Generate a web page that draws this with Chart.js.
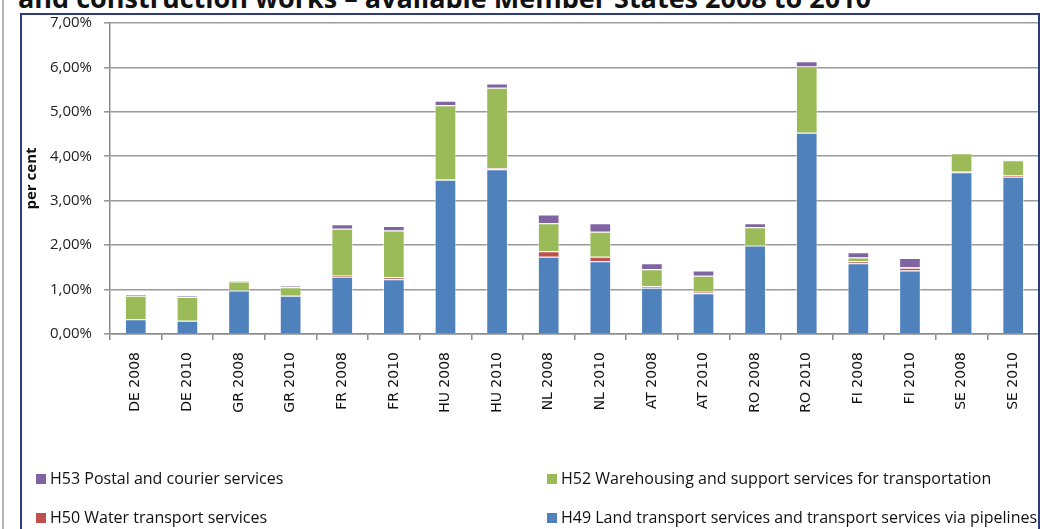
<!DOCTYPE html>
<html>
<head>
<meta charset="utf-8">
<script src="https://cdn.jsdelivr.net/npm/chart.js@4"></script>
<style>
  html, body { margin: 0; padding: 0; background: #fff; }
  body { width: 1048px; height: 529px; position: relative; overflow: hidden; font-family: "Open Sans", sans-serif; }
  #chart { position: absolute; left: 0; top: 0; }
  .title { position: absolute; left: 18px; top: -16px; font: bold 27px/27px "Open Sans", sans-serif; color: #111; white-space: nowrap; }
  .frame { position: absolute; left: 20px; top: 13px; width: 1016px; height: 600px; border: 2px solid #2c3b84; pointer-events: none; }
  .side { position: absolute; left: 2px; top: 0; width: 2px; height: 529px; background: #b4b4b4; }
  .legend-item { position: absolute; font-size: 16px; color: #111; white-space: nowrap; line-height: 20px; }
  .legend-item span { display: inline-block; width: 10px; height: 10px; margin-right: 4px; }
</style>
</head>
<body>
<div class="side"></div>
<div class="title">and construction works – available Member States 2008 to 2010</div>
<canvas id="chart" width="1048" height="529"></canvas>
<div class="frame"></div>
<div id="legend"></div>
<script>
const categories = ['DE 2008', 'DE 2010', 'GR 2008', 'GR 2010', 'FR 2008', 'FR 2010', 'HU 2008', 'HU 2010', 'NL 2008',
    'NL 2010', 'AT 2008', 'AT 2010', 'RO 2008', 'RO 2010', 'FI 2008', 'FI 2010', 'SE 2008', 'SE 2010'];

// shares in per cent, stacked bottom to top
const h49 = [0.33, 0.30, 0.98, 0.86, 1.29, 1.23, 3.47, 3.71, 1.74, 1.64, 1.04, 0.92, 1.99, 4.53, 1.59, 1.43, 3.64, 3.54];
const h50 = [0.00, 0.00, 0.00, 0.00, 0.04, 0.05, 0.01, 0.02, 0.12, 0.10, 0.04, 0.03, 0.00, 0.00, 0.05, 0.06, 0.02, 0.03];
const h52 = [0.53, 0.53, 0.20, 0.19, 1.04, 1.05, 1.67, 1.81, 0.63, 0.56, 0.38, 0.36, 0.41, 1.49, 0.08, 0.01, 0.41, 0.34];
const h53 = [0.04, 0.03, 0.03, 0.04, 0.10, 0.10, 0.10, 0.10, 0.20, 0.19, 0.13, 0.12, 0.09, 0.12, 0.12, 0.21, 0.01, 0.01];

const yTicks = [0, 1, 2, 3, 4, 5, 6, 7];

const seriesNames = {
    h49: 'H49 Land transport services and transport services via pipelines',
    h50: 'H50 Water transport services',
    h52: 'H52 Warehousing and support services for transportation',
    h53: 'H53 Postal and courier services'
};

function ds(label, data, color) {
    return {
        label: label,
        data: data,
        backgroundColor: color,
        borderColor: 'rgba(255,255,255,0.55)',
        borderWidth: 1,
        barPercentage: 0.42,
        categoryPercentage: 1
    };
}

const chart = new Chart(document.getElementById('chart').getContext('2d'), {
    type: 'bar',
    data: {
        labels: categories,
        datasets: [
            ds(seriesNames.h49, h49, '#4f81bd'),
            ds(seriesNames.h50, h50, '#c0504d'),
            ds(seriesNames.h52, h52, '#9bbb59'),
            ds(seriesNames.h53, h53, '#8064a2')
        ]
    },
    options: {
        responsive: false,
        animation: false,
        layout: { padding: { left: 20, right: 9, top: 23, bottom: 0 } },
        plugins: { legend: { display: false }, tooltip: { enabled: false } },
        scales: {
            x: {
                stacked: true,
                grid: { offset: true, drawOnChartArea: false, drawTicks: true, tickLength: 6, color: '#8c8c8c', lineWidth: 1.5 },
                border: { color: '#8c8c8c', width: 1.5 },
                ticks: {
                    autoSkip: false, maxRotation: 90, minRotation: 90, padding: 12,
                    color: '#111', font: { family: 'DejaVu Sans', size: 14 }
                },
                afterFit: s => { s.height = 195; }
            },
            y: {
                stacked: true,
                min: 0,
                max: 7,
                afterBuildTicks: s => { s.ticks = yTicks.map(v => ({ value: v })); },
                grid: { color: '#9a9a9a', lineWidth: 1.6, tickLength: 6 },
                border: { color: '#8c8c8c', width: 1.5 },
                ticks: {
                    padding: 12, color: '#222',
                    font: { family: 'Open Sans', size: 15 },
                    callback: v => v.toFixed(2).replace('.', ',') + '%'
                },
                title: {
                    display: true, text: 'per cent', color: '#111', padding: 3,
                    font: { family: 'Open Sans', size: 15, weight: 'bold' }
                },
                afterFit: s => { s.width = 90; }
            }
        }
    }
});

// legend in two columns, same order as the workbook chart
const legendSpots = [
    { key: 'h53', color: '#8064a2', x: 36, y: 468 },
    { key: 'h52', color: '#9bbb59', x: 547, y: 468 },
    { key: 'h50', color: '#c0504d', x: 36, y: 507 },
    { key: 'h49', color: '#4f81bd', x: 547, y: 507 }
];
const legend = document.getElementById('legend');
legendSpots.forEach(item => {
    const el = document.createElement('div');
    el.className = 'legend-item';
    el.style.left = item.x + 'px';
    el.style.top = item.y + 'px';
    el.innerHTML = '<span style="background:' + item.color + '"></span>' + seriesNames[item.key];
    legend.appendChild(el);
});
</script>
</body>
</html>
